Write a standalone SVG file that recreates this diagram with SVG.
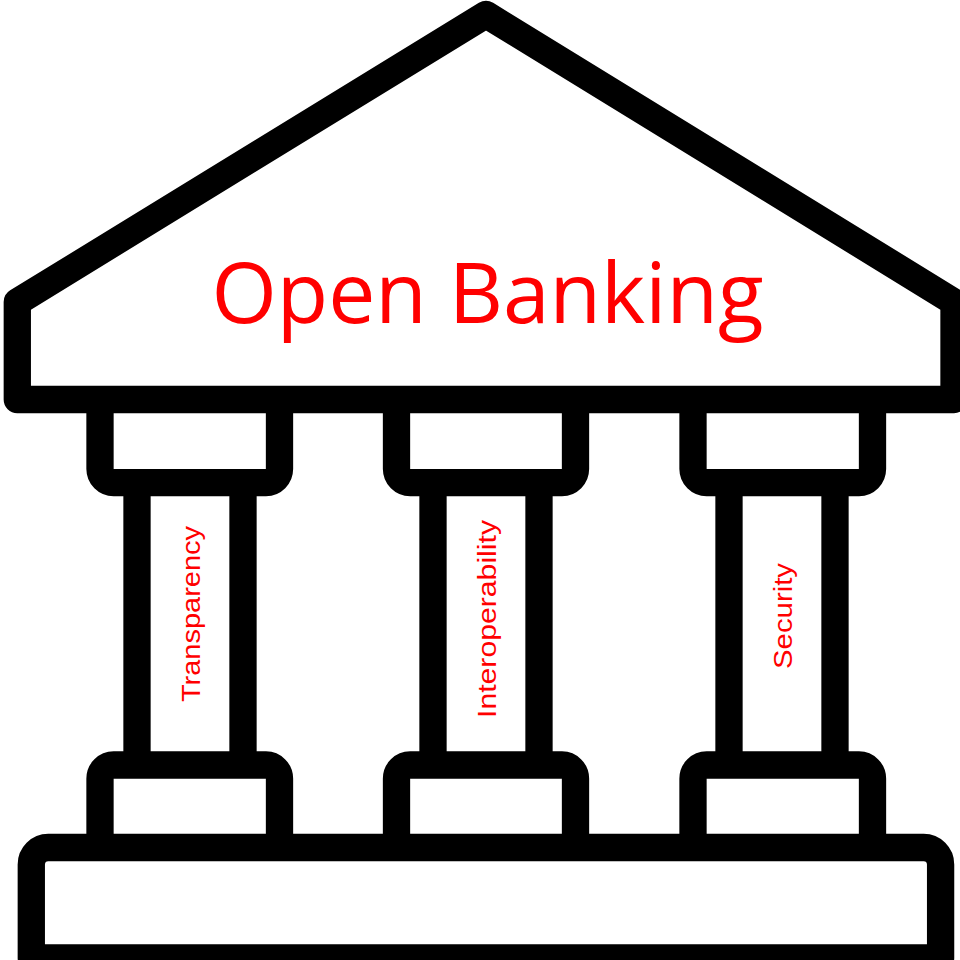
<svg xmlns="http://www.w3.org/2000/svg" width="960" height="960" viewBox="0 0 960 960">
<style>
.s{fill:none;stroke:#000;stroke-width:27.3;stroke-linejoin:round;stroke-linecap:butt}
.t{fill:#f00;font-family:"Liberation Sans",Arial,sans-serif}
.h{fill:#f00;font-family:"Open Sans","Liberation Sans",sans-serif}
</style>
<rect width="960" height="960" fill="#fff"/>
<g id="roof"><path class="s" d="M486 14.500L954 302V399.500H17.300V302Z"/>
<text class="h" x="487.500" y="323" font-size="84" text-anchor="middle" textLength="552" lengthAdjust="spacingAndGlyphs">Open Banking</text></g>
<g id="pillar-1"><path class="s" d="M100 399.500V469A13.650 13.650 0 0 0 113.650 482.600H266A13.650 13.650 0 0 0 279.500 469V399.500"/>
<path class="s" d="M137 482V765M243 482V765"/>
<path class="s" d="M100 847V778.600A13.650 13.650 0 0 1 113.650 765H266A13.650 13.650 0 0 1 279.500 778.600V847"/>
<text class="t" font-size="26" text-anchor="middle" textLength="176" lengthAdjust="spacingAndGlyphs" transform="translate(199.500 614) rotate(-90)">Transparency</text></g>
<g id="pillar-2"><path class="s" d="M396.500 399.500V469A13.650 13.650 0 0 0 410.150 482.600H562A13.650 13.650 0 0 0 575.500 469V399.500"/>
<path class="s" d="M433 482V765M539 482V765"/>
<path class="s" d="M396.500 847V778.600A13.650 13.650 0 0 1 410.150 765H562A13.650 13.650 0 0 1 575.500 778.600V847"/>
<text class="t" font-size="26" text-anchor="middle" textLength="198" lengthAdjust="spacingAndGlyphs" transform="translate(495.500 619) rotate(-90)">Interoperability</text></g>
<g id="pillar-3"><path class="s" d="M693 399.500V469A13.650 13.650 0 0 0 706.650 482.600H859A13.650 13.650 0 0 0 872.500 469V399.500"/>
<path class="s" d="M729 482V765M835 482V765"/>
<path class="s" d="M693 847V778.600A13.650 13.650 0 0 1 706.650 765H859A13.650 13.650 0 0 1 872.500 778.600V847"/>
<text class="t" font-size="26" text-anchor="middle" textLength="106" lengthAdjust="spacingAndGlyphs" transform="translate(791.500 616) rotate(-90)">Security</text></g>
<g id="base"><path class="s" d="M31.300 864.500A17 17 0 0 1 48.300 847.500H923.600A17 17 0 0 1 940.600 864.500V958H31.300Z"/></g>
</svg>
